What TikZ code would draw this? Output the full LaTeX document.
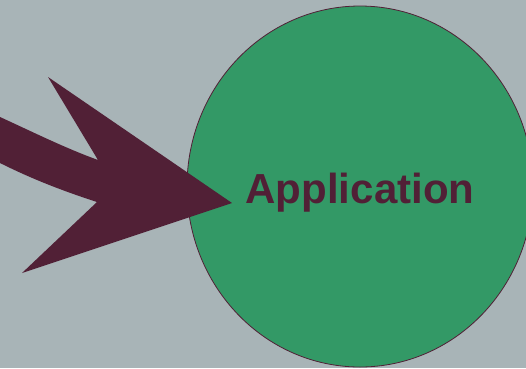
\documentclass[tikz,border=0pt]{standalone}
\usepackage{fontspec}
\setmainfont{Liberation Sans}
\usetikzlibrary{shapes.geometric}

\definecolor{bggray}{RGB}{168,180,183}
\definecolor{appgreen}{RGB}{51,153,102}
\definecolor{maroon}{RGB}{81,32,54}

\begin{document}
\begin{tikzpicture}[x=1pt,y=-1pt,
  appcircle/.style={ellipse, draw=maroon, line width=0.8pt, fill=appgreen,
    minimum width=346pt, minimum height=361pt, inner sep=0pt},
  applabel/.style={text=maroon, font=\fontsize{42}{46}\selectfont\bfseries, inner sep=0pt}]

\fill[bggray] (0,0) rectangle (526,368);
\useasboundingbox (0,0) rectangle (526,368);

\node[appcircle] (app) at (360,186.5) {};
\node[applabel, anchor=base] (applbl) at (360,203) {Application};

% big curved arrow pointing into the circle
\coordinate (tip) at (232,203);
\fill[maroon] (48,77) -- (tip) -- (22,273) -- (97,202)
  .. controls (60,190) and (30,178) .. (0,163) -- (0,117)
  .. controls (35,133) and (65,148) .. (98,160) -- cycle;

\end{tikzpicture}
\end{document}
